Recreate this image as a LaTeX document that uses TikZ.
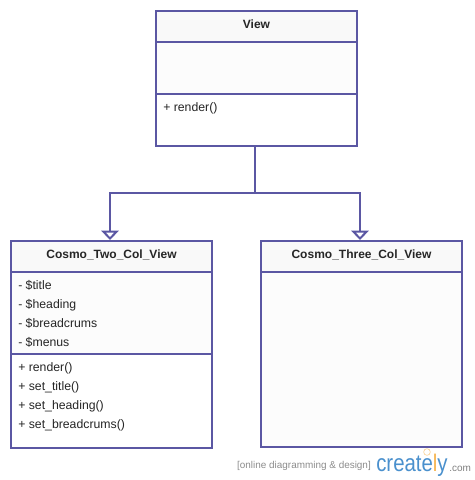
\documentclass[tikz,border=0pt]{standalone}
\usepackage{fontspec}
\setmainfont{Liberation Sans}
\usetikzlibrary{calc}
\usetikzlibrary{arrows.meta}
\definecolor{umlline}{RGB}{91,87,163}
\definecolor{umlhead}{RGB}{249,249,249}
\definecolor{umlattr}{RGB}{252,252,252}
\definecolor{logoblue}{RGB}{74,144,205}
\definecolor{logoorange}{RGB}{245,180,80}
\tikzset{
  umlcell/.style={draw=umlline,line width=1.5pt,inner sep=0pt,outer sep=0pt,minimum width=150.75pt},
  umltitle/.style={font=\fontsize{9}{9}\selectfont\bfseries,anchor=base,inner sep=0pt,text=black!85},
  umlrow/.style={font=\fontsize{9.2}{9.2}\selectfont,anchor=base west,inner sep=0pt,text=black!85},
  umllink/.style={draw=umlline,line width=1.5pt},
  umlhollow/.style={umllink,-{Triangle[open,length=7pt,width=13pt,line width=1.5pt]},line join=miter},
}
\begin{document}
\begin{tikzpicture}[x=0.75pt,y=0.75pt,yscale=-1,xscale=1]
\useasboundingbox (0,0) rectangle (475,480);

% View
\node (viewhead) at (256.5,26.5) [umlcell,fill=umlhead,minimum height=23.25pt] {};
\node (viewattr) at (256.5,68) [umlcell,fill=umlattr,minimum height=39pt] {};
\node (viewops) at (256.5,119.5) [umlcell,fill=white,minimum height=39pt] {};
\node (viewtitle) at (256.5,28) [umltitle] {View};
\node (viewrender) at (163,111) [umlrow] {+ render()};

% Cosmo_Two_Col_View
\node (twohead) at (111.5,256.5) [umlcell,fill=umlhead,minimum height=23.25pt] {};
\node (twoattr) at (111.5,313) [umlcell,fill=umlattr,minimum height=61.5pt] {};
\node (twoops) at (111.5,401) [umlcell,fill=white,minimum height=70.5pt] {};
\node (twotitle) at (111.5,258) [umltitle] {Cosmo\_Two\_Col\_View};
\node (twotitlevar) at (18,289) [umlrow] {- \$title};
\node (twoheading) at (18,308) [umlrow] {- \$heading};
\node (twobread) at (18,327) [umlrow] {- \$breadcrums};
\node (twomenus) at (18,346) [umlrow] {- \$menus};
\node (tworender) at (18,371) [umlrow] {+ render()};
\node (twosettitle) at (18,390) [umlrow] {+ set\_title()};
\node (twosetheading) at (18,409) [umlrow] {+ set\_heading()};
\node (twosetbread) at (18,428) [umlrow] {+ set\_breadcrums()};

% Cosmo_Three_Col_View
\node (threehead) at (361.5,256.5) [umlcell,fill=umlhead,minimum height=23.25pt] {};
\node (threeattr) at (361.5,359.5) [umlcell,fill=umlattr,minimum height=131.25pt] {};
\node (threetitle) at (361.5,258) [umltitle] {Cosmo\_Three\_Col\_View};

% Connectors
\coordinate (fork) at (255,193);
\coordinate (twotip) at (110,240);
\coordinate (threetip) at (360,240);
\coordinate (viewfoot) at (255,145);
\draw [umllink] (viewfoot) -- (fork);
\draw [umlhollow] (fork) -| (twotip);
\draw [umlhollow] (fork) -| (threetip);

% Logo
\node (logotag) at (304,468) [font=\fontsize{7.45}{7.45}\selectfont,anchor=base,inner sep=0pt,text=black!45] {[online diagramming \& design]};
\node (logoname) at (376,471) [font=\fontsize{18}{18}\selectfont,anchor=base west,inner sep=0pt,text=logoblue] {\scalebox{0.85}[1]{create\textcolor{logoorange}{l}y}};
\node (logocom) at (449,471) [font=\fontsize{7.5}{7.5}\selectfont,anchor=base west,inner sep=0pt,text=black!50] {.com};
\node (logobulb) at (427,452) [circle,draw=logoorange!60,line width=0.5pt,inner sep=0pt,minimum size=5pt] {};

\end{tikzpicture}
\end{document}
